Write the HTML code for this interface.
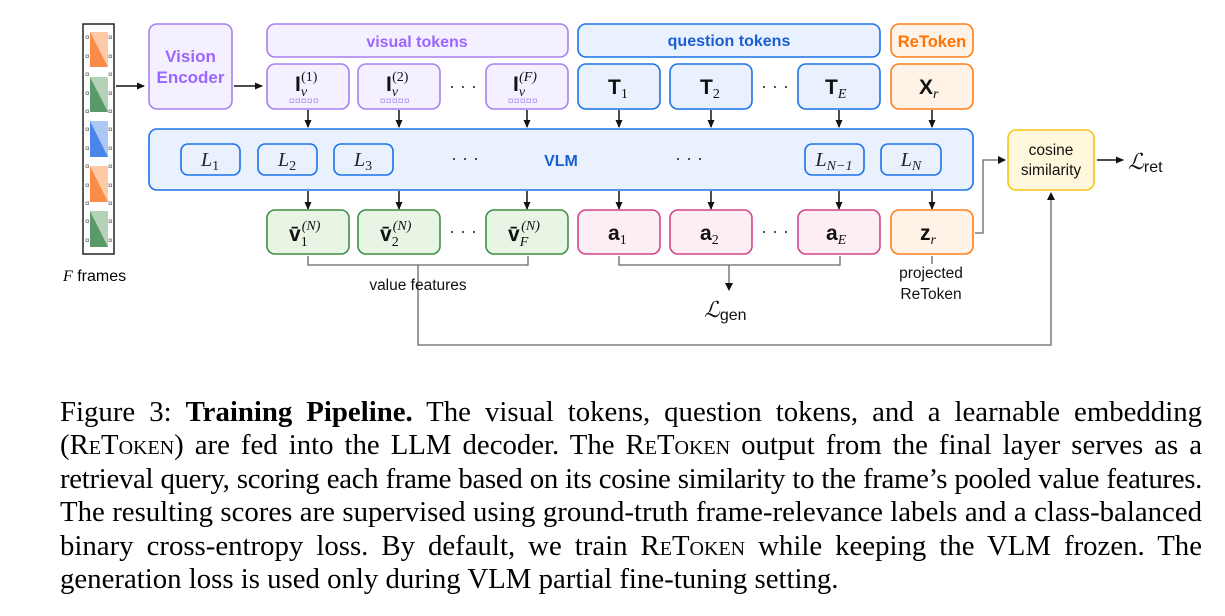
<!DOCTYPE html>
<html><head><meta charset="utf-8"><style>
body{margin:0;background:#fff;width:1225px;height:616px;overflow:hidden;position:relative}
svg{position:absolute;left:0;top:0}
.cap{position:absolute;left:60px;top:396px;width:1142px;font-family:"Liberation Serif",serif;font-size:28.8px;line-height:33.4px;color:#000}
.cap div{text-align:justify;text-align-last:justify;white-space:nowrap}
.cap div.l{text-align-last:left}
.cap div.t{letter-spacing:-0.3px}
.sc{font-variant:small-caps}
</style></head><body>
<svg width="1225" height="390" viewBox="0 0 1225 390" font-family="Liberation Sans, sans-serif">
<defs><marker id="a" markerWidth="8" markerHeight="8" refX="7" refY="4" orient="auto" markerUnits="userSpaceOnUse"><path d="M0,0.5 L8,4 L0,7.5 Z" fill="#111"/></marker></defs>
<rect x="83" y="24" width="31" height="230" fill="#fff" stroke="#222" stroke-width="1.5"/>
<g fill="none" stroke="#777" stroke-width="0.8">
<rect x="86" y="36" width="2.5" height="2.5"/><rect x="86" y="55" width="2.5" height="2.5"/><rect x="86" y="73" width="2.5" height="2.5"/><rect x="86" y="92" width="2.5" height="2.5"/><rect x="86" y="110" width="2.5" height="2.5"/><rect x="86" y="128" width="2.5" height="2.5"/><rect x="86" y="147" width="2.5" height="2.5"/><rect x="86" y="165" width="2.5" height="2.5"/><rect x="86" y="184" width="2.5" height="2.5"/><rect x="86" y="202" width="2.5" height="2.5"/><rect x="86" y="220" width="2.5" height="2.5"/><rect x="86" y="239" width="2.5" height="2.5"/>
<rect x="109" y="36" width="2.5" height="2.5"/><rect x="109" y="55" width="2.5" height="2.5"/><rect x="109" y="73" width="2.5" height="2.5"/><rect x="109" y="92" width="2.5" height="2.5"/><rect x="109" y="110" width="2.5" height="2.5"/><rect x="109" y="128" width="2.5" height="2.5"/><rect x="109" y="147" width="2.5" height="2.5"/><rect x="109" y="165" width="2.5" height="2.5"/><rect x="109" y="184" width="2.5" height="2.5"/><rect x="109" y="202" width="2.5" height="2.5"/><rect x="109" y="220" width="2.5" height="2.5"/><rect x="109" y="239" width="2.5" height="2.5"/>
</g>
<rect x="90" y="32" width="18" height="35" fill="#fdc9a6"/><path d="M90,32 L108,67 L90,67Z" fill="#f98c48"/>
<rect x="90" y="77" width="18" height="35" fill="#b5d2b9"/><path d="M90,77 L108,112 L90,112Z" fill="#5a9a68"/>
<rect x="90" y="121" width="18" height="36" fill="#adc8f5"/><path d="M90,121 L108,157 L90,157Z" fill="#4a86ea"/>
<rect x="90" y="166" width="18" height="36" fill="#fdc9a6"/><path d="M90,166 L108,202 L90,202Z" fill="#f98c48"/>
<rect x="90" y="211" width="18" height="36" fill="#b5d2b9"/><path d="M90,211 L108,247 L90,247Z" fill="#5a9a68"/>
<text x="63" y="281" font-size="16"><tspan font-family="Liberation Serif" font-style="italic">F</tspan> frames</text>
<line x1="116" y1="86" x2="144" y2="86" stroke="#111" stroke-width="1.5" marker-end="url(#a)"/>
<rect x="149" y="24" width="83" height="85" rx="8" fill="#f5f0ff" stroke="#a680f2" stroke-width="1.6"/>
<text x="190.5" y="62" font-size="17" font-weight="bold" fill="#9a66ff" text-anchor="middle">Vision</text>
<text x="190.5" y="83" font-size="17" font-weight="bold" fill="#9a66ff" text-anchor="middle">Encoder</text>
<line x1="234" y1="86" x2="262" y2="86" stroke="#111" stroke-width="1.5" marker-end="url(#a)"/>
<rect x="267" y="24" width="301" height="33" rx="8" fill="#f5f0ff" stroke="#a680f2" stroke-width="1.6"/>
<text x="417" y="47" font-size="16" font-weight="bold" fill="#9a66ff" text-anchor="middle">visual tokens</text>
<rect x="578" y="24" width="302" height="33" rx="8" fill="#e8f1fd" stroke="#1a73e8" stroke-width="1.6"/>
<text x="729" y="46" font-size="16" font-weight="bold" fill="#1a5fd0" text-anchor="middle">question tokens</text>
<rect x="891" y="24" width="82" height="33" rx="8" fill="#fff3e8" stroke="#ff7f1a" stroke-width="1.6"/>
<text x="932" y="47" font-size="16.5" font-weight="bold" fill="#ff7300" text-anchor="middle">ReToken</text>
<g stroke-width="1.6">
<rect x="267" y="64" width="82" height="45" rx="8" fill="#f5f0ff" stroke="#a680f2"/>
<rect x="358" y="64" width="82" height="45" rx="8" fill="#f5f0ff" stroke="#a680f2"/>
<rect x="486" y="64" width="82" height="45" rx="8" fill="#f5f0ff" stroke="#a680f2"/>
<rect x="578" y="64" width="82" height="45" rx="8" fill="#e8f1fd" stroke="#1a73e8"/>
<rect x="670" y="64" width="82" height="45" rx="8" fill="#e8f1fd" stroke="#1a73e8"/>
<rect x="798" y="64" width="82" height="45" rx="8" fill="#e8f1fd" stroke="#1a73e8"/>
<rect x="891" y="64" width="82" height="45" rx="8" fill="#fff3e8" stroke="#ff7f1a"/>
</g>
<g fill="none" stroke="#b89af5" stroke-width="0.9">
<rect x="290" y="99" width="3.5" height="3.5"/><rect x="296" y="99" width="3.5" height="3.5"/><rect x="302" y="99" width="3.5" height="3.5"/><rect x="308" y="99" width="3.5" height="3.5"/><rect x="314" y="99" width="3.5" height="3.5"/>
<rect x="381" y="99" width="3.5" height="3.5"/><rect x="387" y="99" width="3.5" height="3.5"/><rect x="393" y="99" width="3.5" height="3.5"/><rect x="399" y="99" width="3.5" height="3.5"/><rect x="405" y="99" width="3.5" height="3.5"/>
<rect x="509" y="99" width="3.5" height="3.5"/><rect x="515" y="99" width="3.5" height="3.5"/><rect x="521" y="99" width="3.5" height="3.5"/><rect x="527" y="99" width="3.5" height="3.5"/><rect x="533" y="99" width="3.5" height="3.5"/>
</g>
<g font-size="21" font-weight="bold" fill="#111">
<text x="295" y="91">I<tspan font-family="Liberation Serif" font-weight="normal" font-style="italic" font-size="14" dy="5">v</tspan><tspan font-family="Liberation Serif" font-weight="normal" font-size="14" dx="-6" dy="-15">(1)</tspan></text>
<text x="386" y="91">I<tspan font-family="Liberation Serif" font-weight="normal" font-style="italic" font-size="14" dy="5">v</tspan><tspan font-family="Liberation Serif" font-weight="normal" font-size="14" dx="-6" dy="-15">(2)</tspan></text>
<text x="513" y="91">I<tspan font-family="Liberation Serif" font-weight="normal" font-style="italic" font-size="14" dy="5">v</tspan><tspan font-family="Liberation Serif" font-weight="normal" font-style="italic" font-size="14" dx="-6" dy="-15">(F)</tspan></text>
<text x="608" y="94">T<tspan font-family="Liberation Serif" font-weight="normal" font-size="14" dy="4">1</tspan></text>
<text x="700" y="94">T<tspan font-family="Liberation Serif" font-weight="normal" font-size="14" dy="4">2</tspan></text>
<text x="825" y="94">T<tspan font-family="Liberation Serif" font-weight="normal" font-style="italic" font-size="14" dy="4">E</tspan></text>
<text x="919" y="94">X<tspan font-family="Liberation Serif" font-weight="normal" font-style="italic" font-size="14" dy="4">r</tspan></text>
</g>
<g font-size="18" fill="#333" text-anchor="middle"><text x="463" y="92">· · ·</text><text x="775" y="92">· · ·</text><text x="463" y="237">· · ·</text><text x="775" y="237">· · ·</text></g>
<g stroke="#111" stroke-width="1.5" marker-end="url(#a)">
<line x1="308" y1="110" x2="308" y2="127"/><line x1="399" y1="110" x2="399" y2="127"/><line x1="527" y1="110" x2="527" y2="127"/><line x1="619" y1="110" x2="619" y2="127"/><line x1="711" y1="110" x2="711" y2="127"/><line x1="839" y1="110" x2="839" y2="127"/><line x1="932" y1="110" x2="932" y2="127"/>
<line x1="308" y1="191" x2="308" y2="209"/><line x1="399" y1="191" x2="399" y2="209"/><line x1="527" y1="191" x2="527" y2="209"/><line x1="619" y1="191" x2="619" y2="209"/><line x1="711" y1="191" x2="711" y2="209"/><line x1="839" y1="191" x2="839" y2="209"/><line x1="932" y1="191" x2="932" y2="209"/>
</g>
<rect x="149" y="129" width="824" height="61" rx="8" fill="#e8f1fd" stroke="#1a73e8" stroke-width="1.6"/>
<g fill="#e8f1fd" stroke="#1a73e8" stroke-width="1.6">
<rect x="181" y="144" width="59" height="31" rx="7"/><rect x="258" y="144" width="59" height="31" rx="7"/><rect x="334" y="144" width="59" height="31" rx="7"/><rect x="805" y="144" width="59" height="31" rx="7"/><rect x="881" y="144" width="60" height="31" rx="7"/>
</g>
<g font-family="Liberation Serif" font-style="italic" font-size="20" fill="#222" text-anchor="middle">
<text x="210" y="166">L<tspan font-style="normal" font-size="14" dy="4">1</tspan></text>
<text x="287" y="166">L<tspan font-style="normal" font-size="14" dy="4">2</tspan></text>
<text x="363" y="166">L<tspan font-style="normal" font-size="14" dy="4">3</tspan></text>
<text x="834" y="166">L<tspan font-size="14" dy="4">N−1</tspan></text>
<text x="911" y="166">L<tspan font-size="14" dy="4">N</tspan></text>
</g>
<text x="465" y="164" font-size="18" fill="#333" text-anchor="middle">· · ·</text>
<text x="689" y="164" font-size="18" fill="#333" text-anchor="middle">· · ·</text>
<text x="561" y="166" font-size="16" font-weight="bold" fill="#1a5fd0" text-anchor="middle">VLM</text>
<g stroke-width="1.6">
<rect x="267" y="210" width="82" height="44" rx="8" fill="#e8f5e4" stroke="#3f8f45"/>
<rect x="358" y="210" width="82" height="44" rx="8" fill="#e8f5e4" stroke="#3f8f45"/>
<rect x="486" y="210" width="82" height="44" rx="8" fill="#e8f5e4" stroke="#3f8f45"/>
<rect x="578" y="210" width="82" height="44" rx="8" fill="#fdeef6" stroke="#d0458a"/>
<rect x="670" y="210" width="82" height="44" rx="8" fill="#fdeef6" stroke="#d0458a"/>
<rect x="798" y="210" width="82" height="44" rx="8" fill="#fdeef6" stroke="#d0458a"/>
<rect x="891" y="210" width="82" height="44" rx="8" fill="#fff3e8" stroke="#ff7f1a"/>
</g>
<g font-size="21" font-weight="bold" fill="#111">
<text x="289" y="241">v̄<tspan font-family="Liberation Serif" font-weight="normal" font-size="14" dy="5">1</tspan><tspan font-family="Liberation Serif" font-weight="normal" font-style="italic" font-size="14" dx="-6" dy="-16">(N)</tspan></text>
<text x="380" y="241">v̄<tspan font-family="Liberation Serif" font-weight="normal" font-size="14" dy="5">2</tspan><tspan font-family="Liberation Serif" font-weight="normal" font-style="italic" font-size="14" dx="-6" dy="-16">(N)</tspan></text>
<text x="508" y="241">v̄<tspan font-family="Liberation Serif" font-weight="normal" font-style="italic" font-size="14" dy="5">F</tspan><tspan font-family="Liberation Serif" font-weight="normal" font-style="italic" font-size="14" dx="-7" dy="-16">(N)</tspan></text>
<text x="608" y="240">a<tspan font-family="Liberation Serif" font-weight="normal" font-size="14" dy="4">1</tspan></text>
<text x="700" y="240">a<tspan font-family="Liberation Serif" font-weight="normal" font-size="14" dy="4">2</tspan></text>
<text x="826" y="240">a<tspan font-family="Liberation Serif" font-weight="normal" font-style="italic" font-size="14" dy="4">E</tspan></text>
<text x="920" y="240">z<tspan font-family="Liberation Serif" font-weight="normal" font-style="italic" font-size="14" dy="4">r</tspan></text>
</g>
<g fill="none" stroke="#666" stroke-width="1.3">
<path d="M308,256 V265 H528 V256"/><path d="M418,265 V345 H1051 V196"/>
<path d="M619,256 V265 H840 V256"/><path d="M729,265 V285"/>
<path d="M932,256 V264"/>
<path d="M975,233 H983 V160 H1000"/>
</g>
<path d="M1051,192 L1047,200 L1055,200Z" fill="#111"/>
<path d="M729,291 L725,283 L733,283Z" fill="#111"/>
<path d="M1006,160 L998,156 L998,164Z" fill="#111"/>
<text x="418" y="290" font-size="15.5" fill="#111" text-anchor="middle">value features</text>
<text x="931" y="278" font-size="15.5" fill="#111" text-anchor="middle">projected</text>
<text x="931" y="299" font-size="15.5" fill="#111" text-anchor="middle">ReToken</text>
<text x="704" y="317" font-size="22" font-family="DejaVu Serif" font-style="italic" fill="#111">ℒ<tspan font-family="Liberation Sans" font-style="normal" font-size="16" dy="3">gen</tspan></text>
<rect x="1008" y="130" width="86" height="60" rx="8" fill="#fff8dc" stroke="#f5c518" stroke-width="1.6"/>
<text x="1051" y="155" font-size="15.5" fill="#111" text-anchor="middle">cosine</text>
<text x="1051" y="175" font-size="15.5" fill="#111" text-anchor="middle">similarity</text>
<line x1="1097" y1="160" x2="1123" y2="160" stroke="#111" stroke-width="1.5" marker-end="url(#a)"/>
<text x="1128" y="169" font-size="22" font-family="DejaVu Serif" font-style="italic" fill="#111">ℒ<tspan font-family="Liberation Sans" font-style="normal" font-size="16" dy="3">ret</tspan></text>
</svg>
<div class="cap">
<div>Figure 3: <b>Training Pipeline.</b> The visual tokens, question tokens, and a learnable embedding</div>
<div>(<span class="sc">ReToken</span>) are fed into the LLM decoder. The <span class="sc">ReToken</span> output from the final layer serves as a</div>
<div class="t">retrieval query, scoring each frame based on its cosine similarity to the frame’s pooled value features.</div>
<div>The resulting scores are supervised using ground-truth frame-relevance labels and a class-balanced</div>
<div>binary cross-entropy loss. By default, we train <span class="sc">ReToken</span> while keeping the VLM frozen. The</div>
<div class="l">generation loss is used only during VLM partial fine-tuning setting.</div>
</div>
</body></html>
